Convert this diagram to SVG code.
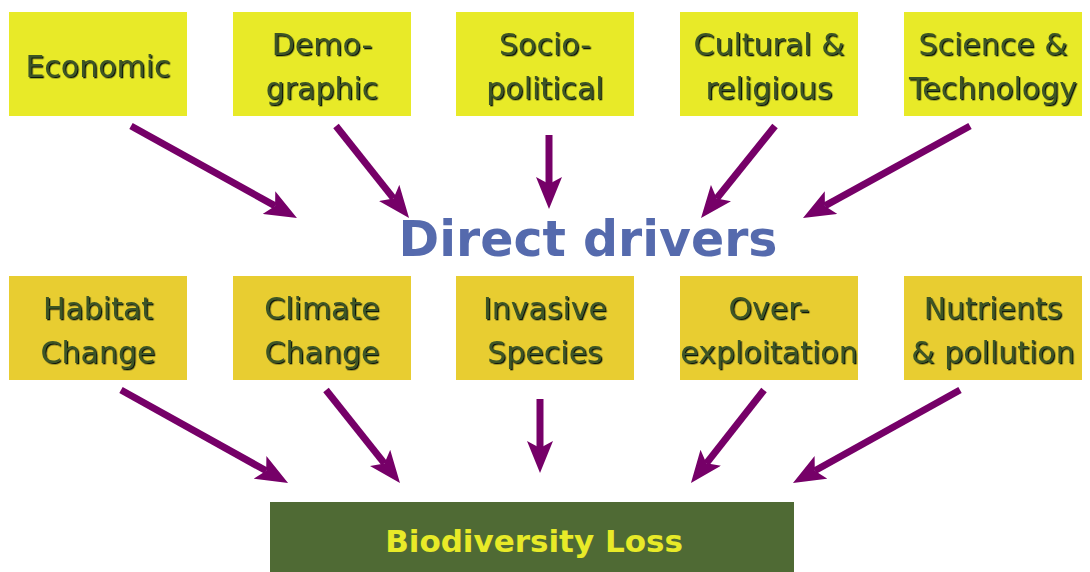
<svg xmlns="http://www.w3.org/2000/svg" width="1090" height="572" viewBox="0 0 1090 572">
<style>
.top{fill:#e8ea28}
.bot{fill:#e8cd31}
.lbl{font-family:"DejaVu Sans","Verdana",sans-serif;font-size:30px;fill:#3d5526;text-anchor:middle;filter:url(#sh)}
.arr{stroke:#760068;stroke-width:7;fill:none;marker-end:url(#ah)}
.title{font-family:"DejaVu Sans",sans-serif;font-weight:bold;font-size:49px;fill:#556aad;text-anchor:middle}
.bl{font-family:"DejaVu Sans",sans-serif;font-weight:bold;font-size:31px;fill:#e8ea28;text-anchor:middle}
</style>
<defs>
<filter id="sh" x="-10%" y="-20%" width="120%" height="140%">
<feDropShadow dx="1.3" dy="1.3" stdDeviation="0.2" flood-color="#0e1808" flood-opacity="1"/>
</filter>
<marker id="ah" markerUnits="userSpaceOnUse" markerWidth="34" markerHeight="26" refX="7" refY="13" orient="auto">
<path d="M0,0 L32,13 L0,26 L7,13 Z" fill="#760068"/>
</marker>
</defs>
<rect width="1090" height="572" fill="#ffffff"/>

<g id="economic"><rect class="top" x="9" y="12" width="178" height="104"/><text class="lbl" x="98" y="77">Economic</text></g>
<g id="demographic"><rect class="top" x="233" y="12" width="178" height="104"/><text class="lbl" x="322" y="55">Demo-<tspan x="322" y="99">graphic</tspan></text></g>
<g id="sociopolitical"><rect class="top" x="456" y="12" width="178" height="104"/><text class="lbl" x="545" y="55">Socio-<tspan x="545" y="99">political</tspan></text></g>
<g id="cultural"><rect class="top" x="680" y="12" width="178" height="104"/><text class="lbl" x="769" y="55">Cultural &amp;<tspan x="769" y="99">religious</tspan></text></g>
<g id="science"><rect class="top" x="904" y="12" width="178" height="104"/><text class="lbl" x="993" y="55">Science &amp;<tspan x="993" y="99">Technology</tspan></text></g>

<g id="direct-drivers"><text class="title" x="588" y="256">Direct drivers</text></g>

<g id="habitat"><rect class="bot" x="9" y="276" width="178" height="104"/><text class="lbl" x="98" y="319">Habitat<tspan x="98" y="363">Change</tspan></text></g>
<g id="climate"><rect class="bot" x="233" y="276" width="178" height="104"/><text class="lbl" x="322" y="319">Climate<tspan x="322" y="363">Change</tspan></text></g>
<g id="invasive"><rect class="bot" x="456" y="276" width="178" height="104"/><text class="lbl" x="545" y="319">Invasive<tspan x="545" y="363">Species</tspan></text></g>
<g id="overexploitation"><rect class="bot" x="680" y="276" width="178" height="104"/><text class="lbl" x="769" y="319">Over-<tspan x="769" y="363">exploitation</tspan></text></g>
<g id="nutrients"><rect class="bot" x="904" y="276" width="178" height="104"/><text class="lbl" x="993" y="319">Nutrients<tspan x="993" y="363">&amp; pollution</tspan></text></g>

<g id="biodiversity-loss"><rect x="270" y="502" width="524" height="72" fill="#4f6a34"/><text class="bl" x="534" y="552">Biodiversity Loss</text></g>

<g id="connectors">
<line class="arr" x1="131" y1="126" x2="275.1" y2="205.9"/>
<line class="arr" x1="336" y1="126" x2="393.5" y2="198.4"/>
<line class="arr" x1="549" y1="135" x2="549" y2="184"/>
<line class="arr" x1="775" y1="126" x2="716.7" y2="198.5"/>
<line class="arr" x1="970" y1="126" x2="824.9" y2="205.9"/>
<line class="arr" x1="121" y1="390" x2="266.2" y2="470.8"/>
<line class="arr" x1="326" y1="390" x2="384.4" y2="463.4"/>
<line class="arr" x1="540" y1="399" x2="540" y2="448"/>
<line class="arr" x1="764" y1="390" x2="706.4" y2="463.3"/>
<line class="arr" x1="960" y1="390" x2="814.8" y2="470.8"/>
</g>
</svg>
